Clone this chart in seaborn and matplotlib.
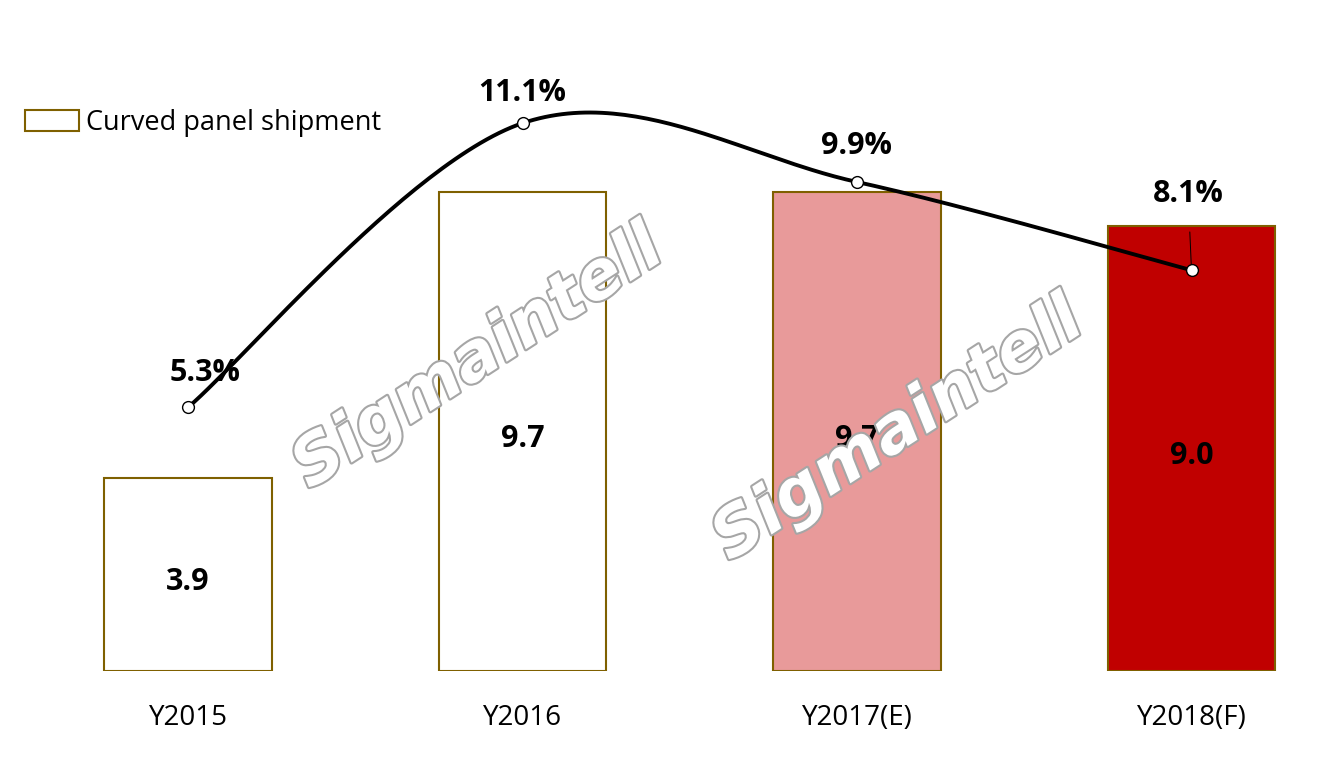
import numpy as np
import matplotlib
matplotlib.use("Agg")
import matplotlib.pyplot as plt
import matplotlib.patheffects as pe
from matplotlib.patches import Patch
import seaborn as sns

categories = ["Y2015", "Y2016", "Y2017(E)", "Y2018(F)"]
shipment = [3.9, 9.7, 9.7, 9.0]
share = [5.3, 11.1, 9.9, 8.1]
share_labels = ["5.3%", "11.1%", "9.9%", "8.1%"]
bar_colors = ["#FFFFFF", "#FFFFFF", "#E89A9A", "#C00000"]
edge_color = "#7F6000"

sns.set_theme(style="white")
plt.rcParams["font.family"] = ["Open Sans", "DejaVu Sans"]
plt.rcParams["text.color"] = "black"

W, H = 1324, 764
fig = plt.figure(figsize=(W / 100, H / 100), dpi=100)
step = 334.5
x0px = 188
ax_bottom = 93 / H
ax_top_px = 20
ax = fig.add_axes([0, ax_bottom, 1, (H - 93 - ax_top_px) / H])

sns.barplot(x=categories, y=shipment, hue=categories, palette=bar_colors,
            legend=False, width=0.5, edgecolor=edge_color, linewidth=1.5,
            saturation=1, ax=ax)
ax.set_xlim(-x0px / step, (W - x0px) / step)
ax.set_ylim(0, (H - 93 - ax_top_px) / 49.4)
ax.set_yticks([])
ax.set_xlabel("")
ax.set_ylabel("")
for s in ax.spines.values():
    s.set_visible(False)
ax.tick_params(axis="x", length=0, labelsize=20, pad=24, colors="black")

for i, v in enumerate(shipment):
    ax.text(i, v / 2 - 0.15, f"{v:.1f}", ha="center", va="center",
            fontsize=22, fontweight="bold", color="black", zorder=5)

# secondary axis for share line
ax2 = ax.twinx()
ax2.set_ylim(-0.08, (H - 93 - ax_top_px) / 49.0 - 0.08)
ax2.set_yticks([])
for s in ax2.spines.values():
    s.set_visible(False)

xs = np.arange(len(share), dtype=float)
ys = np.array(share, dtype=float)
P = np.column_stack([xs, ys])
Pext = np.vstack([P[0], P, P[-1]])
curve = []
t = np.linspace(0, 1, 60)[:, None]
for i in range(len(P) - 1):
    p0, p3 = Pext[i + 1], Pext[i + 2]
    c1 = p0 + (Pext[i + 2] - Pext[i]) / 6
    c2 = p3 - (Pext[i + 3] - Pext[i + 1]) / 6
    seg = ((1 - t) ** 3) * p0 + 3 * ((1 - t) ** 2) * t * c1 + 3 * (1 - t) * t ** 2 * c2 + t ** 3 * p3
    curve.append(seg)
curve = np.vstack(curve)
ax2.plot(curve[:, 0], curve[:, 1], color="black", lw=2.8, zorder=3,
         solid_capstyle="round")
ax2.plot(xs, ys, linestyle="none", marker="o", markersize=8.5,
         markerfacecolor="white", markeredgecolor="black", markeredgewidth=1,
         zorder=4)

label_offsets = [0.7, 0.62, 0.74, 0]
for i, (v, lab) in enumerate(zip(share, share_labels)):
    if i == 3:
        ax2.annotate(lab, xy=(i, v), xytext=(i - 0.01, v + 1.55),
                     ha="center", va="center", fontsize=22, fontweight="bold",
                     color="black",
                     arrowprops=dict(arrowstyle="-", color="black", lw=0.7,
                                     shrinkA=14, shrinkB=4))
    else:
        ax2.text(i + (0.05 if i == 0 else 0), v + label_offsets[i], lab,
                 ha="center", va="center", fontsize=22, fontweight="bold",
                 color="black")

# legend
handle = Patch(facecolor="white", edgecolor=edge_color, linewidth=1.5,
               label="Curved panel shipment")
leg = fig.legend(handles=[handle], loc="upper left",
                 bbox_to_anchor=(25 / W, 1 - 109 / H),
                 frameon=False, fontsize=19.5, handlelength=2.0, handleheight=0.85,
                 handletextpad=0.25, borderaxespad=0, borderpad=0)
for txt in leg.get_texts():
    txt.set_color("black")

# watermarks
for (cx, cy) in [(478, 358), (898, 430)]:
    fig.text(cx / W, 1 - cy / H, "Sigmaintell", ha="center", va="center",
             rotation=33, fontsize=48, fontweight="bold", fontstyle="italic",
             family=["DejaVu Sans"], color="white", zorder=10,
             path_effects=[pe.withStroke(linewidth=3, foreground="#A6A6A6")])

fig.savefig("out.png", dpi=100)
